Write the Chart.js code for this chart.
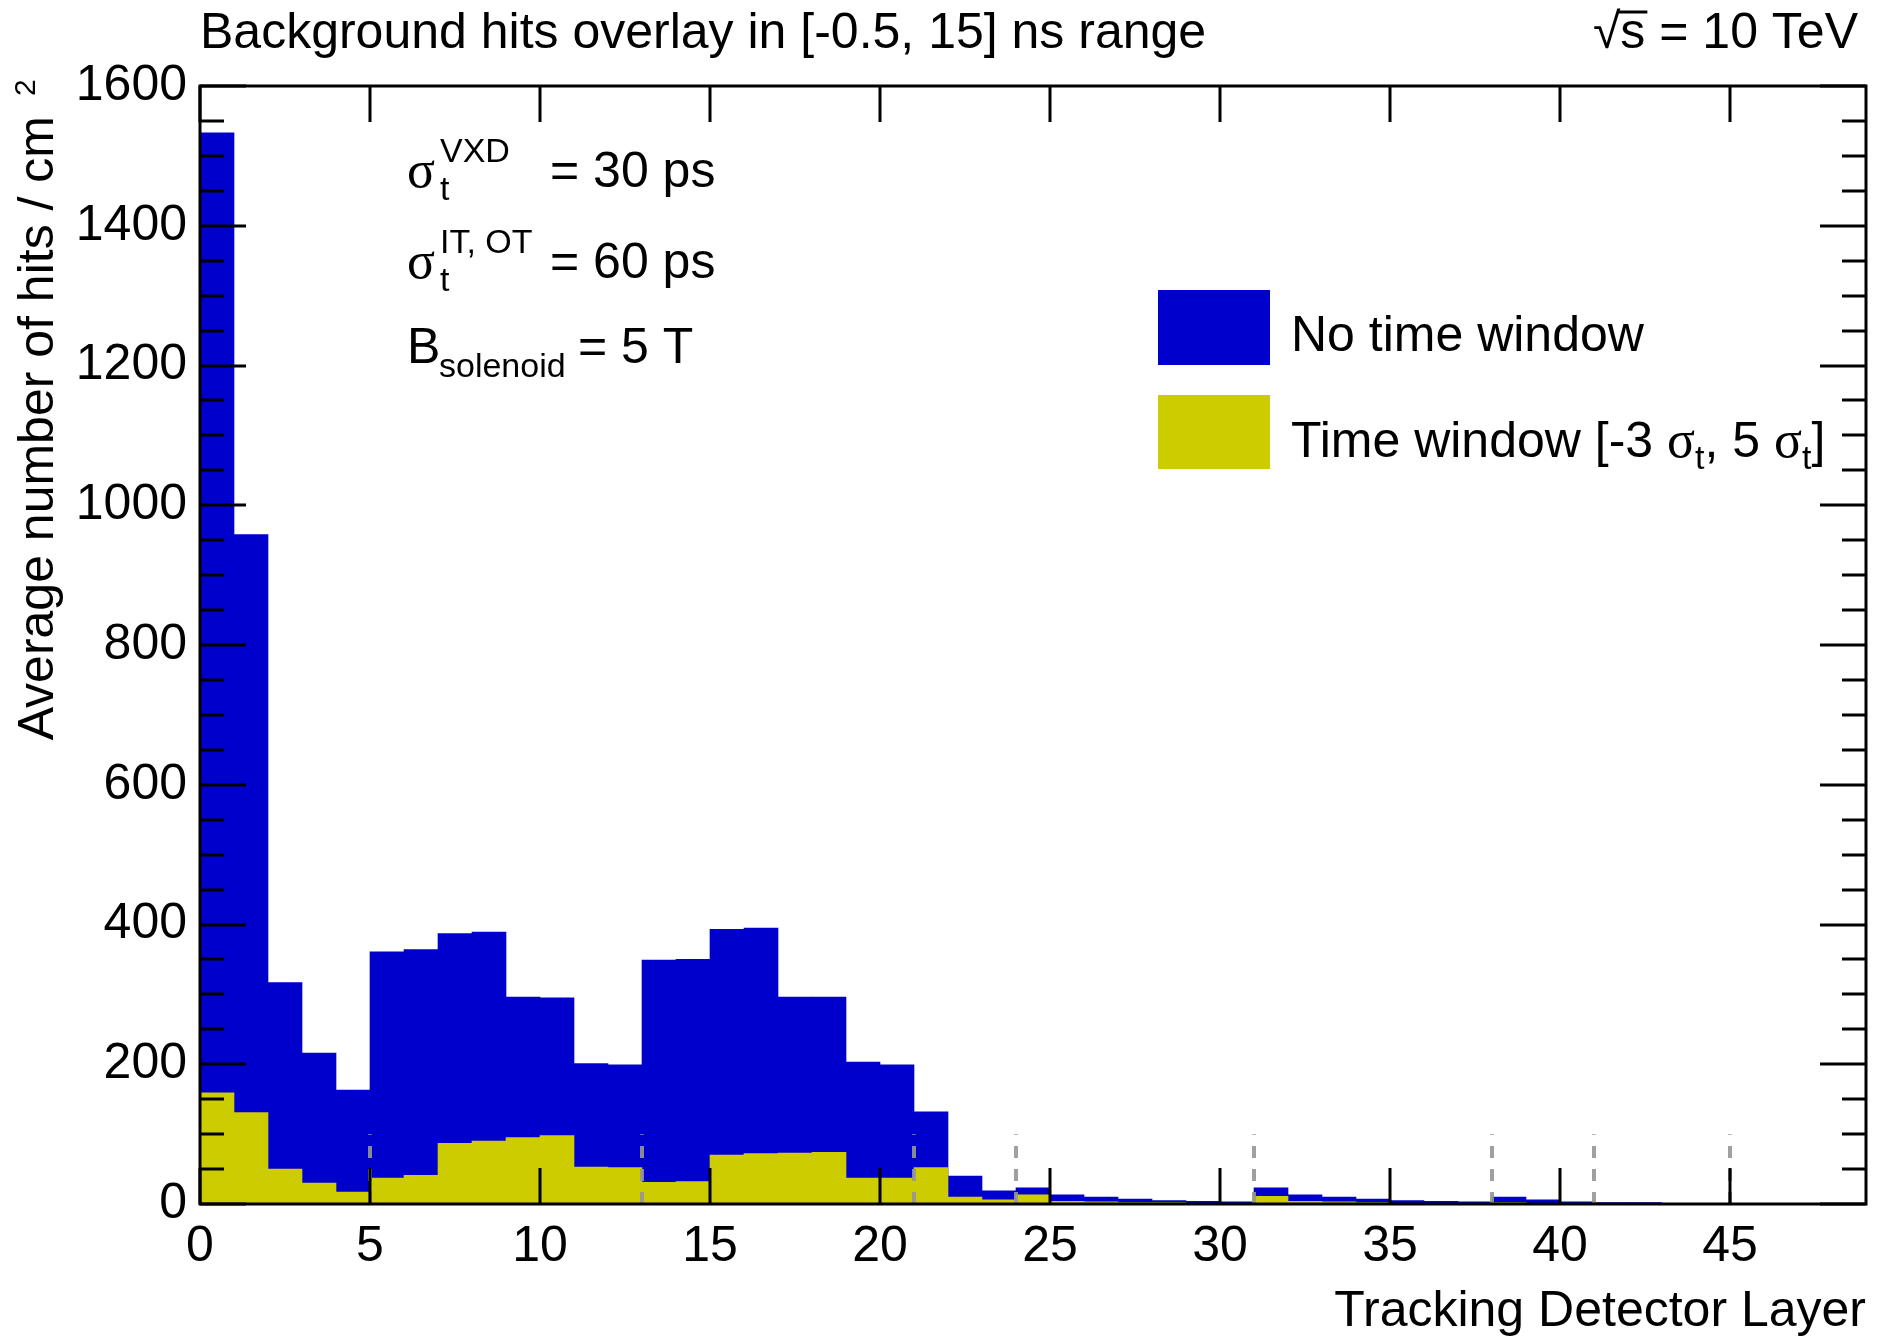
<!DOCTYPE html>
<html>
<head>
<meta charset="utf-8">
<script src="https://cdn.jsdelivr.net/npm/chart.js@4.4.0/dist/chart.umd.min.js"></script>
<style>
  html, body { margin: 0; padding: 0; background: #fff; }
  canvas { display: block; }
</style>
</head>
<body>
<canvas id="hitsChart" width="1896" height="1339"></canvas>
<script>
// layer bins (lower edge of each bin, width 1)
const layerIndex = [0, 1, 2, 3, 4, 5, 6, 7, 8, 9, 10, 11, 12, 13, 14, 15, 16, 17, 18, 19,
  20, 21, 22, 23, 24, 25, 26, 27, 28, 29, 30, 31, 32, 33, 34, 35, 36, 37, 38, 39,
  40, 41, 42, 43, 44, 45, 46];

// average hits / cm^2 without any time window
const hitsNoWindow = [1533, 958, 317, 216, 163, 361, 364, 387, 389, 296, 295, 201, 199, 349, 350, 393,
  395, 296, 296, 203, 199, 132, 40, 19, 23, 13, 10, 7, 5, 4, 3, 23, 13, 10, 7, 5,
  4, 3, 10, 6, 3, 2, 2, 1, 1, 1, 1];

// average hits / cm^2 with time window [-3 sigma_t, 5 sigma_t]
const hitsTimeWindow = [159, 131, 50, 30, 17, 37, 41, 87, 90, 95, 98, 53, 52, 31, 32, 70,
  72, 73, 74, 37, 37, 52, 10, 6, 13, 4, 3, 2, 2, 1, 1, 11, 4, 3, 2, 1,
  1, 1, 2, 1, 1, 0.5, 0.5, 0.5, 0.5, 0.5, 0.5];

// sub-detector boundaries (dashed markers)
const boundaryLayers = [5, 13, 21, 24, 31, 38, 41, 45];
const boundaryTop = 100;

const xTicks = [0, 5, 10, 15, 20, 25, 30, 35, 40, 45];
const yTicks = [0, 200, 400, 600, 800, 1000, 1200, 1400, 1600];

const BLUE = '#0000cc';
const YELLOW = '#cccc00';
const SANS = '"Liberation Sans", Arial, Helvetica, sans-serif';
const SERIF = '"Liberation Serif", "Times New Roman", serif';

// plot frame with ROOT-style inward ticks on all four sides
const framePlugin = {
  id: 'frame',
  afterDatasetsDraw(chart) {
    const { ctx, chartArea: a, scales: { x, y } } = chart;
    ctx.save();
    ctx.strokeStyle = '#000';
    ctx.lineWidth = 3;
    ctx.beginPath();
    for (let v = y.min; v <= y.max; v += 50) {
      const py = Math.round(y.getPixelForValue(v));
      const len = v % 200 === 0 ? 46 : 24;
      ctx.moveTo(a.left, py); ctx.lineTo(a.left + len, py);
      ctx.moveTo(a.right, py); ctx.lineTo(a.right - len, py);
    }
    xTicks.forEach(v => {
      const px = Math.round(x.getPixelForValue(v));
      ctx.moveTo(px, a.bottom); ctx.lineTo(px, a.bottom - 36);
      ctx.moveTo(px, a.top); ctx.lineTo(px, a.top + 36);
    });
    ctx.stroke();
    ctx.strokeRect(a.left, a.top, a.right - a.left, a.bottom - a.top);
    ctx.restore();
  }
};

// draw a run of text pieces left to right, returns end x
function drawRun(ctx, x, y, parts) {
  parts.forEach(p => {
    ctx.font = p.font;
    ctx.fillText(p.t, x, y + (p.dy || 0));
    x += ctx.measureText(p.t).width;
  });
  return x;
}

const textPlugin = {
  id: 'texts',
  afterDraw(chart) {
    const { ctx, chartArea: a } = chart;
    ctx.save();
    ctx.fillStyle = '#000';
    ctx.textBaseline = 'alphabetic';
    ctx.textAlign = 'left';

    const big = `50px ${SANS}`;
    const small = `34px ${SANS}`;
    const sig = `52px ${SERIF}`;

    // title
    ctx.font = big;
    ctx.fillText('Background hits overlay in [-0.5, 15] ns range', 200, 48);

    // sqrt(s) = 10 TeV
    const wRoot = ctx.measureText('\u221A').width;
    const wS = ctx.measureText('s').width;
    const wRest = ctx.measureText(' = 10 TeV').width;
    const sx = 1858 - (wRoot + wS + wRest);
    ctx.fillText('\u221A', sx, 48);
    ctx.fillText('s', sx + wRoot, 48);
    ctx.fillText(' = 10 TeV', sx + wRoot + wS, 48);
    ctx.lineWidth = 3;
    ctx.beginPath();
    ctx.moveTo(sx + wRoot - 2, 12);
    ctx.lineTo(sx + wRoot + wS + 2, 12);
    ctx.stroke();

    // resolution / field annotations
    drawRun(ctx, 407, 187, [{ t: '\u03C3', font: sig }]);
    ctx.font = small;
    ctx.fillText('VXD', 440, 162);
    ctx.fillText('t', 440, 200);
    ctx.font = big;
    ctx.fillText('= 30 ps', 550, 187);

    drawRun(ctx, 407, 278, [{ t: '\u03C3', font: sig }]);
    ctx.font = small;
    ctx.fillText('IT, OT', 440, 253);
    ctx.fillText('t', 440, 291);
    ctx.font = big;
    ctx.fillText('= 60 ps', 550, 278);

    ctx.font = big;
    ctx.fillText('B', 407, 363);
    ctx.font = small;
    ctx.fillText('solenoid', 439, 377);
    ctx.font = big;
    ctx.fillText('= 5 T', 578, 363);

    // legend
    const ds = chart.data.datasets;
    ctx.fillStyle = ds[0].backgroundColor;
    ctx.fillRect(1158, 290, 112, 75);
    ctx.fillStyle = ds[1].backgroundColor;
    ctx.fillRect(1158, 395, 112, 74);
    ctx.fillStyle = '#000';
    ctx.font = big;
    ctx.fillText(ds[0].label, 1291, 351);
    let lx = drawRun(ctx, 1291, 457, [{ t: 'Time window [-3 ', font: big }, { t: '\u03C3', font: sig }]);
    lx = drawRun(ctx, lx, 457, [{ t: 't', font: small, dy: 12 }, { t: ', 5 ', font: big }, { t: '\u03C3', font: sig }]);
    drawRun(ctx, lx, 457, [{ t: 't', font: small, dy: 12 }, { t: ']', font: big }]);

    // axis titles
    ctx.font = big;
    ctx.textAlign = 'right';
    ctx.fillText('Tracking Detector Layer', a.right, 1326);

    ctx.save();
    ctx.translate(53, 116);
    ctx.rotate(-Math.PI / 2);
    ctx.textAlign = 'right';
    ctx.fillText('Average number of hits / cm', 0, 0);
    ctx.textAlign = 'left';
    ctx.font = `30px ${SANS}`;
    ctx.fillText('2', 20, -18);
    ctx.restore();

    ctx.restore();
  }
};

const binData = values => layerIndex.map((l, i) => ({ x: l + 0.5, y: values[i] }));
const boundaryData = boundaryLayers.flatMap(b => [
  { x: b, y: 0 }, { x: b, y: boundaryTop }, { x: b, y: null }
]);

new Chart(document.getElementById('hitsChart'), {
  type: 'bar',
  data: {
    datasets: [
      {
        label: 'No time window',
        data: binData(hitsNoWindow),
        backgroundColor: BLUE,
        borderWidth: 0,
        grouped: false,
        barPercentage: 1,
        categoryPercentage: 1,
        order: 3
      },
      {
        label: 'Time window',
        data: binData(hitsTimeWindow),
        backgroundColor: YELLOW,
        borderWidth: 0,
        grouped: false,
        barPercentage: 1,
        categoryPercentage: 1,
        order: 2
      },
      {
        type: 'line',
        label: 'layer boundaries',
        data: boundaryData,
        borderColor: 'rgba(150, 150, 150, 0.9)',
        borderWidth: 4,
        borderDash: [12, 11],
        pointRadius: 0,
        spanGaps: false,
        order: 1
      }
    ]
  },
  options: {
    responsive: false,
    animation: false,
    devicePixelRatio: 1,
    layout: { padding: { top: 86, right: 30, left: 0, bottom: 0 } },
    plugins: {
      legend: { display: false },
      tooltip: { enabled: false }
    },
    scales: {
      x: {
        type: 'linear',
        min: 0,
        max: 49,
        offset: false,
        grid: { display: false, drawTicks: false },
        border: { display: false },
        ticks: {
          font: { family: SANS, size: 50 },
          color: '#000',
          padding: 13,
          maxRotation: 0,
          callback: v => String(v)
        },
        afterBuildTicks: s => { s.ticks = xTicks.map(v => ({ value: v })); },
        afterFit: s => { s.height = 135; }
      },
      y: {
        min: 0,
        max: 1600,
        grid: { display: false, drawTicks: false },
        border: { display: false },
        ticks: {
          font: { family: SANS, size: 50 },
          color: '#000',
          padding: 13,
          callback: v => String(v)
        },
        afterBuildTicks: s => { s.ticks = yTicks.map(v => ({ value: v })); },
        afterFit: s => { s.width = 200; }
      }
    }
  },
  plugins: [framePlugin, textPlugin]
});
</script>
</body>
</html>
